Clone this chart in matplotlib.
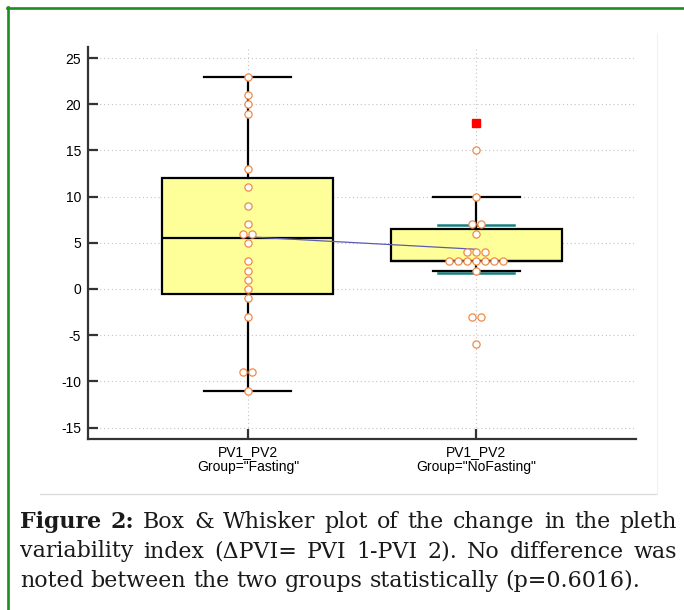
import numpy as np
import matplotlib
matplotlib.use('Agg')
import matplotlib.pyplot as plt
from matplotlib.lines import Line2D

plt.rcParams['axes.unicode_minus'] = False
plt.rcParams['font.family'] = ['Liberation Sans', 'DejaVu Sans']

# change in PVI per subject
fasting = [23, 21, 20, 19, 13, 11, 9, 7, 6, 6, 5, 3, 2, 1, 0, -1, -3, -9, -9, -11]
nofasting = [18, 15, 10, 7, 7, 6, 4, 4, 4, 3, 3, 3, 3, 3, 3, 3, 2, -3, -3, -6]
groups = [fasting, nofasting]
tick_labels = ['PV1_PV2\nGroup="Fasting"', 'PV1_PV2\nGroup="NoFasting"']
yticks = [-15, -10, -5, 0, 5, 10, 15, 20, 25]
t_975 = 2.093  # t(0.975, df=19)

caption = [
    ['Figure', '2:', 'Box', '&', 'Whisker', 'plot', 'of', 'the', 'change', 'in', 'the', 'pleth'],
    ['variability', 'index', '(ΔPVI=', 'PVI', '1-PVI', '2).', 'No', 'difference', 'was'],
    ['noted', 'between', 'the', 'two', 'groups', 'statistically', '(p=0.6016).'],
]

W, H = 684, 610
fig = plt.figure(figsize=(W / 100, H / 100), dpi=100)
ax = fig.add_axes([88 / W, 1 - 439 / H, 548 / W, 392 / H])


def hinge(v):
    v = np.sort(v)
    n = len(v)
    lo = v[:(n + 1) // 2]
    hi = v[n // 2:]
    return np.median(lo), np.median(v), np.median(hi)


stats = []
far = []
for g in groups:
    q1, med, q3 = hinge(g)
    iqr = q3 - q1
    arr = np.array(g)
    inner = arr[(arr >= q1 - 1.5 * iqr) & (arr <= q3 + 1.5 * iqr)]
    stats.append(dict(med=med, q1=q1, q3=q3, whislo=inner.min(), whishi=inner.max(), fliers=[]))
    far.append(arr[(arr < q1 - 3 * iqr) | (arr > q3 + 3 * iqr)])

ax.bxp(stats, positions=[0, 1], widths=0.75, capwidths=0.38, patch_artist=True,
       showfliers=False, zorder=2,
       boxprops=dict(facecolor='#ffff99', edgecolor='black', linewidth=1.6),
       whiskerprops=dict(color='black', linewidth=1.6),
       capprops=dict(color='black', linewidth=1.6),
       medianprops=dict(color='black', linewidth=1.6))

# 95% CI of the mean (teal), drawn under the boxes
means = []
for i, g in enumerate(groups):
    m = np.mean(g)
    means.append(m)
    ci = t_975 * np.std(g, ddof=1) / np.sqrt(len(g))
    for yv in (m - ci, m + ci):
        ax.plot([i - 0.167, i + 0.167], [yv, yv], color='#1a7f7f', lw=1.8, zorder=1.5)

ax.plot([0, 1], means, color='#5b5bb0', lw=0.9, zorder=3)

# individual points, side by side when equal
for i, g in enumerate(groups):
    arr = np.array(g)
    for v in np.unique(arr):
        if v in far[i]:
            ax.plot(i, v, 's', color='red', ms=6, zorder=5)
            continue
        n = np.sum(arr == v)
        xs = i + (np.arange(n) - (n - 1) / 2) * 0.039
        ax.plot(xs, [v] * n, 'o', ms=5.2, mfc='white', mec='#f08a48', mew=0.9,
                zorder=5, linestyle='none')

ax.set_xlim(-0.7, 1.7)
ax.set_ylim(-16.24, 26.2)
ax.set_yticks(yticks)
ax.set_yticklabels([str(t) for t in yticks])
ax.set_xticks([0, 1])
ax.set_xticklabels(tick_labels, linespacing=1.15)
ax.tick_params(axis='both', direction='in', length=7, width=1.6, color='#333333',
               labelsize=10, labelcolor='black')
ax.tick_params(axis='y', pad=5)
ax.tick_params(axis='x', pad=4)
for s in ['top', 'right']:
    ax.spines[s].set_visible(False)
for s in ['left', 'bottom']:
    ax.spines[s].set_color('#333333')
    ax.spines[s].set_linewidth(1.6)
ax.set_axisbelow(True)
ax.grid(True, linestyle=(0, (1, 2.5)), color='#c4c4c4', lw=0.8)

# frame around the figure panel
fig.add_artist(Line2D([7 / W, 1], [1 - 7.5 / H, 1 - 7.5 / H], color='#1e8c1e', lw=1.9))
fig.add_artist(Line2D([8 / W, 8 / W], [0, 1 - 6.5 / H], color='#1e8c1e', lw=1.9))
fig.add_artist(Line2D([40 / W, 656 / W], [1 - 494 / H, 1 - 494 / H], color='#d9d9d9', lw=0.9))
fig.add_artist(Line2D([657 / W, 657 / W], [1 - 33 / H, 1 - 494 / H], color='#f0f0f0', lw=0.8))

# caption, justified like the journal layout
renderer = fig.canvas.get_renderer()
serif = 'DejaVu Serif'


def word_widths(words, fs, nbold):
    out = []
    for k, w in enumerate(words):
        t = fig.text(0, 0, w, fontsize=fs, family=serif,
                     weight='bold' if k < nbold else 'normal')
        out.append(t.get_window_extent(renderer).width)
        t.remove()
    return out


fs0 = 14
sp0 = 0.318 * fs0 * 100 / 72
w3 = word_widths(caption[2], fs0, 0)
nat = sum(w3) + sp0 * (len(w3) - 1)
fs = fs0 * 621 / nat
sp = 0.318 * fs * 100 / 72

x0, x1 = 20, 677
baselines = [528, 557.5, 587]
for li, words in enumerate(caption):
    nbold = 2 if li == 0 else 0
    ws = word_widths(words, fs, nbold)
    if li < 2:
        gap = (x1 - x0 - sum(ws)) / (len(words) - 1)
    else:
        gap = sp
    x = x0
    for k, w in enumerate(words):
        fig.text(x / W, 1 - baselines[li] / H, w, fontsize=fs, family=serif,
                 weight='bold' if k < nbold else 'normal', va='baseline', ha='left',
                 color='#1a1a1a')
        x += ws[k] + gap

fig.savefig('out.png', dpi=100)
